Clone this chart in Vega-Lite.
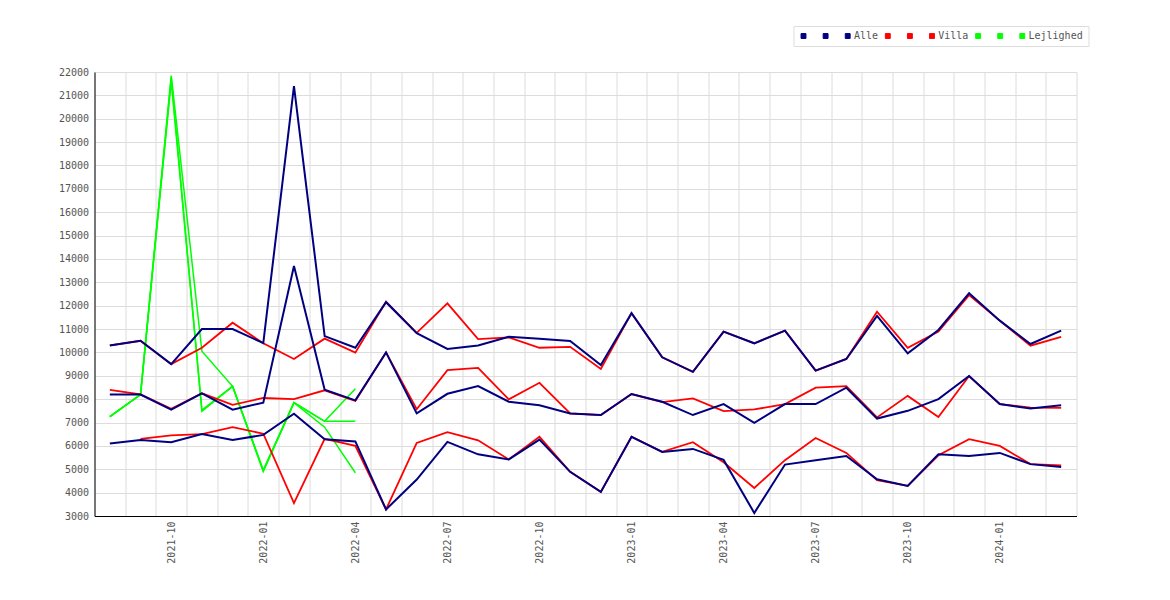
{
  "$schema": "https://vega.github.io/schema/vega-lite/v6.json",
  "width": 982,
  "height": 444,
  "autosize": {"type": "none"},
  "padding": {"left": 94.5, "top": 72, "right": 93.5, "bottom": 84},
  "background": "white",
  "data": {"values": [
    {"month":"2021-08","series":"Alle a","value":10300},{"month":"2021-09","series":"Alle a","value":10500},{"month":"2021-10","series":"Alle a","value":9500},{"month":"2021-11","series":"Alle a","value":11000},{"month":"2021-12","series":"Alle a","value":11000},{"month":"2022-01","series":"Alle a","value":10400},{"month":"2022-02","series":"Alle a","value":21400},{"month":"2022-03","series":"Alle a","value":10700},{"month":"2022-04","series":"Alle a","value":10200},{"month":"2022-05","series":"Alle a","value":12150},{"month":"2022-06","series":"Alle a","value":10820},{"month":"2022-07","series":"Alle a","value":10150},{"month":"2022-08","series":"Alle a","value":10300},{"month":"2022-09","series":"Alle a","value":10670},{"month":"2022-10","series":"Alle a","value":10580},{"month":"2022-11","series":"Alle a","value":10490},{"month":"2022-12","series":"Alle a","value":9460},{"month":"2023-01","series":"Alle a","value":11680},{"month":"2023-02","series":"Alle a","value":9790},{"month":"2023-03","series":"Alle a","value":9170},{"month":"2023-04","series":"Alle a","value":10890},{"month":"2023-05","series":"Alle a","value":10390},{"month":"2023-06","series":"Alle a","value":10930},{"month":"2023-07","series":"Alle a","value":9220},{"month":"2023-08","series":"Alle a","value":9720},{"month":"2023-09","series":"Alle a","value":11560},{"month":"2023-10","series":"Alle a","value":9960},{"month":"2023-11","series":"Alle a","value":10960},{"month":"2023-12","series":"Alle a","value":12530},{"month":"2024-01","series":"Alle a","value":11360},{"month":"2024-02","series":"Alle a","value":10360},{"month":"2024-03","series":"Alle a","value":10930},
    {"month":"2021-08","series":"Alle b","value":8200},{"month":"2021-09","series":"Alle b","value":8200},{"month":"2021-10","series":"Alle b","value":7550},{"month":"2021-11","series":"Alle b","value":8250},{"month":"2021-12","series":"Alle b","value":7550},{"month":"2022-01","series":"Alle b","value":7850},{"month":"2022-02","series":"Alle b","value":13700},{"month":"2022-03","series":"Alle b","value":8400},{"month":"2022-04","series":"Alle b","value":7950},{"month":"2022-05","series":"Alle b","value":10000},{"month":"2022-06","series":"Alle b","value":7390},{"month":"2022-07","series":"Alle b","value":8230},{"month":"2022-08","series":"Alle b","value":8560},{"month":"2022-09","series":"Alle b","value":7890},{"month":"2022-10","series":"Alle b","value":7740},{"month":"2022-11","series":"Alle b","value":7390},{"month":"2022-12","series":"Alle b","value":7320},{"month":"2023-01","series":"Alle b","value":8220},{"month":"2023-02","series":"Alle b","value":7890},{"month":"2023-03","series":"Alle b","value":7320},{"month":"2023-04","series":"Alle b","value":7790},{"month":"2023-05","series":"Alle b","value":6990},{"month":"2023-06","series":"Alle b","value":7790},{"month":"2023-07","series":"Alle b","value":7790},{"month":"2023-08","series":"Alle b","value":8490},{"month":"2023-09","series":"Alle b","value":7170},{"month":"2023-10","series":"Alle b","value":7500},{"month":"2023-11","series":"Alle b","value":8000},{"month":"2023-12","series":"Alle b","value":8990},{"month":"2024-01","series":"Alle b","value":7790},{"month":"2024-02","series":"Alle b","value":7600},{"month":"2024-03","series":"Alle b","value":7740},
    {"month":"2021-08","series":"Alle","value":6100},{"month":"2021-09","series":"Alle","value":6250},{"month":"2021-10","series":"Alle","value":6160},{"month":"2021-11","series":"Alle","value":6510},{"month":"2021-12","series":"Alle","value":6250},{"month":"2022-01","series":"Alle","value":6470},{"month":"2022-02","series":"Alle","value":7380},{"month":"2022-03","series":"Alle","value":6280},{"month":"2022-04","series":"Alle","value":6190},{"month":"2022-05","series":"Alle","value":3280},{"month":"2022-06","series":"Alle","value":4560},{"month":"2022-07","series":"Alle","value":6170},{"month":"2022-08","series":"Alle","value":5640},{"month":"2022-09","series":"Alle","value":5420},{"month":"2022-10","series":"Alle","value":6270},{"month":"2022-11","series":"Alle","value":4890},{"month":"2022-12","series":"Alle","value":4030},{"month":"2023-01","series":"Alle","value":6390},{"month":"2023-02","series":"Alle","value":5740},{"month":"2023-03","series":"Alle","value":5870},{"month":"2023-04","series":"Alle","value":5400},{"month":"2023-05","series":"Alle","value":3130},{"month":"2023-06","series":"Alle","value":5200},{"month":"2023-07","series":"Alle","value":5390},{"month":"2023-08","series":"Alle","value":5570},{"month":"2023-09","series":"Alle","value":4570},{"month":"2023-10","series":"Alle","value":4290},{"month":"2023-11","series":"Alle","value":5640},{"month":"2023-12","series":"Alle","value":5570},{"month":"2024-01","series":"Alle","value":5700},{"month":"2024-02","series":"Alle","value":5220},{"month":"2024-03","series":"Alle","value":5100},
    {"month":"2021-08","series":"Villa a","value":10300},{"month":"2021-09","series":"Villa a","value":10500},{"month":"2021-10","series":"Villa a","value":9500},{"month":"2021-11","series":"Villa a","value":10200},{"month":"2021-12","series":"Villa a","value":11270},{"month":"2022-01","series":"Villa a","value":10390},{"month":"2022-02","series":"Villa a","value":9720},{"month":"2022-03","series":"Villa a","value":10590},{"month":"2022-04","series":"Villa a","value":9990},{"month":"2022-05","series":"Villa a","value":12170},{"month":"2022-06","series":"Villa a","value":10840},{"month":"2022-07","series":"Villa a","value":12100},{"month":"2022-08","series":"Villa a","value":10570},{"month":"2022-09","series":"Villa a","value":10640},{"month":"2022-10","series":"Villa a","value":10200},{"month":"2022-11","series":"Villa a","value":10240},{"month":"2022-12","series":"Villa a","value":9290},{"month":"2023-01","series":"Villa a","value":11680},{"month":"2023-02","series":"Villa a","value":9790},{"month":"2023-03","series":"Villa a","value":9170},{"month":"2023-04","series":"Villa a","value":10890},{"month":"2023-05","series":"Villa a","value":10390},{"month":"2023-06","series":"Villa a","value":10930},{"month":"2023-07","series":"Villa a","value":9220},{"month":"2023-08","series":"Villa a","value":9720},{"month":"2023-09","series":"Villa a","value":11740},{"month":"2023-10","series":"Villa a","value":10200},{"month":"2023-11","series":"Villa a","value":10890},{"month":"2023-12","series":"Villa a","value":12450},{"month":"2024-01","series":"Villa a","value":11360},{"month":"2024-02","series":"Villa a","value":10290},{"month":"2024-03","series":"Villa a","value":10670},
    {"month":"2021-08","series":"Villa b","value":8400},{"month":"2021-09","series":"Villa b","value":8200},{"month":"2021-10","series":"Villa b","value":7590},{"month":"2021-11","series":"Villa b","value":8250},{"month":"2021-12","series":"Villa b","value":7760},{"month":"2022-01","series":"Villa b","value":8050},{"month":"2022-02","series":"Villa b","value":8000},{"month":"2022-03","series":"Villa b","value":8380},{"month":"2022-04","series":"Villa b","value":7920},{"month":"2022-05","series":"Villa b","value":10000},{"month":"2022-06","series":"Villa b","value":7570},{"month":"2022-07","series":"Villa b","value":9240},{"month":"2022-08","series":"Villa b","value":9340},{"month":"2022-09","series":"Villa b","value":7990},{"month":"2022-10","series":"Villa b","value":8700},{"month":"2022-11","series":"Villa b","value":7390},{"month":"2022-12","series":"Villa b","value":7320},{"month":"2023-01","series":"Villa b","value":8220},{"month":"2023-02","series":"Villa b","value":7870},{"month":"2023-03","series":"Villa b","value":8030},{"month":"2023-04","series":"Villa b","value":7490},{"month":"2023-05","series":"Villa b","value":7560},{"month":"2023-06","series":"Villa b","value":7790},{"month":"2023-07","series":"Villa b","value":8490},{"month":"2023-08","series":"Villa b","value":8560},{"month":"2023-09","series":"Villa b","value":7220},{"month":"2023-10","series":"Villa b","value":8140},{"month":"2023-11","series":"Villa b","value":7240},{"month":"2023-12","series":"Villa b","value":8990},{"month":"2024-01","series":"Villa b","value":7790},{"month":"2024-02","series":"Villa b","value":7640},{"month":"2024-03","series":"Villa b","value":7630},
    {"month":"2021-09","series":"Villa","value":6300},{"month":"2021-10","series":"Villa","value":6450},{"month":"2021-11","series":"Villa","value":6500},{"month":"2021-12","series":"Villa","value":6800},{"month":"2022-01","series":"Villa","value":6520},{"month":"2022-02","series":"Villa","value":3550},{"month":"2022-03","series":"Villa","value":6300},{"month":"2022-04","series":"Villa","value":6000},{"month":"2022-05","series":"Villa","value":3280},{"month":"2022-06","series":"Villa","value":6130},{"month":"2022-07","series":"Villa","value":6590},{"month":"2022-08","series":"Villa","value":6240},{"month":"2022-09","series":"Villa","value":5420},{"month":"2022-10","series":"Villa","value":6390},{"month":"2022-11","series":"Villa","value":4890},{"month":"2022-12","series":"Villa","value":4030},{"month":"2023-01","series":"Villa","value":6390},{"month":"2023-02","series":"Villa","value":5750},{"month":"2023-03","series":"Villa","value":6160},{"month":"2023-04","series":"Villa","value":5300},{"month":"2023-05","series":"Villa","value":4200},{"month":"2023-06","series":"Villa","value":5390},{"month":"2023-07","series":"Villa","value":6340},{"month":"2023-08","series":"Villa","value":5700},{"month":"2023-09","series":"Villa","value":4530},{"month":"2023-10","series":"Villa","value":4290},{"month":"2023-11","series":"Villa","value":5600},{"month":"2023-12","series":"Villa","value":6290},{"month":"2024-01","series":"Villa","value":6000},{"month":"2024-02","series":"Villa","value":5220},{"month":"2024-03","series":"Villa","value":5170},
    {"month":"2021-08","series":"Lejlighed a","value":7250},{"month":"2021-09","series":"Lejlighed a","value":8200},{"month":"2021-10","series":"Lejlighed a","value":21850},{"month":"2021-11","series":"Lejlighed a","value":10050},{"month":"2021-12","series":"Lejlighed a","value":8550},{"month":"2022-01","series":"Lejlighed a","value":4950},{"month":"2022-02","series":"Lejlighed a","value":7850},{"month":"2022-03","series":"Lejlighed a","value":7050},{"month":"2022-04","series":"Lejlighed a","value":8450},
    {"month":"2021-08","series":"Lejlighed b","value":7250},{"month":"2021-09","series":"Lejlighed b","value":8200},{"month":"2021-10","series":"Lejlighed b","value":21750},{"month":"2021-11","series":"Lejlighed b","value":7530},{"month":"2021-12","series":"Lejlighed b","value":8550},{"month":"2022-01","series":"Lejlighed b","value":4950},{"month":"2022-02","series":"Lejlighed b","value":7850},{"month":"2022-03","series":"Lejlighed b","value":7050},{"month":"2022-04","series":"Lejlighed b","value":7050},
    {"month":"2021-08","series":"Lejlighed","value":7250},{"month":"2021-09","series":"Lejlighed","value":8200},{"month":"2021-10","series":"Lejlighed","value":21600},{"month":"2021-11","series":"Lejlighed","value":7480},{"month":"2021-12","series":"Lejlighed","value":8550},{"month":"2022-01","series":"Lejlighed","value":4900},{"month":"2022-02","series":"Lejlighed","value":7850},{"month":"2022-03","series":"Lejlighed","value":6800},{"month":"2022-04","series":"Lejlighed","value":4850}
  ]},
  "encoding": {
    "x": {
      "field": "month", "type": "ordinal", "bandPosition": 0.5,
      "scale": {"type": "band", "paddingInner": 0, "paddingOuter": 0},
      "axis": {
        "title": null, "grid": true, "tickBand": "extent", "ticks": false,
        "labelAngle": -90, "labelPadding": 5, "labelOverlap": false,
        "labelExpr": "indexof(['01','04','07','10'], substring(datum.value, 5, 7)) >= 0 ? datum.value : ''"
      }
    },
    "y": {
      "field": "value", "type": "quantitative",
      "scale": {"domain": [3000, 22000], "nice": false, "zero": false},
      "axis": {
        "title": null, "grid": true, "ticks": false, "labelPadding": 6, "format": "d",
        "values": [3000,4000,5000,6000,7000,8000,9000,10000,11000,12000,13000,14000,15000,16000,17000,18000,19000,20000,21000,22000]
      }
    },
    "color": {
      "field": "series", "type": "nominal",
      "scale": {
        "domain": ["Alle a","Alle b","Alle","Villa a","Villa b","Villa","Lejlighed a","Lejlighed b","Lejlighed"],
        "range": ["#000080","#000080","#000080","#ff0000","#ff0000","#ff0000","#00ff00","#00ff00","#00ff00"]
      },
      "legend": {
        "title": null, "orient": "none", "legendX": 699, "legendY": -46,
        "direction": "horizontal", "columns": 9,
        "symbolType": "square", "symbolSize": 24,
        "labelOffset": 1.2, "columnPadding": 4.1, "padding": 5,
        "strokeColor": "#dddddd", "fillColor": "white",
        "labelFont": "DejaVu Sans Mono", "labelFontSize": 10, "labelColor": "#555555", "labelLimit": 0,
        "labelExpr": "indexof(['Alle','Villa','Lejlighed'], datum.label) >= 0 ? datum.label : 'x'",
        "encode": {
          "symbols": {
            "update": {
              "fill": {"scale": "color", "field": "value"},
              "stroke": {"value": "#666666"},
              "strokeWidth": {"value": 1},
              "opacity": {"value": 1}
            }
          },
          "labels": {
            "update": {
              "opacity": {"signal": "indexof(['Alle','Villa','Lejlighed'], datum.value) >= 0 ? 1 : 0"}
            }
          }
        }
      }
    }
  },
  "layer": [
    {"transform": [{"filter": "indexof(datum.series, 'Lejlighed') == 0"}], "mark": {"type": "line", "strokeWidth": 1.5}},
    {"transform": [{"filter": "indexof(datum.series, 'Villa') == 0"}], "mark": {"type": "line", "strokeWidth": 1.8}},
    {"transform": [{"filter": "indexof(datum.series, 'Alle') == 0"}], "mark": {"type": "line", "strokeWidth": 2}}
  ],
  "config": {
    "view": {"stroke": null},
    "axis": {
      "labelFont": "DejaVu Sans Mono", "labelFontSize": 10, "labelColor": "#555555",
      "gridColor": "#dcdcdc", "gridWidth": 1, "domainColor": "#000000", "domainWidth": 1
    }
  }
}
